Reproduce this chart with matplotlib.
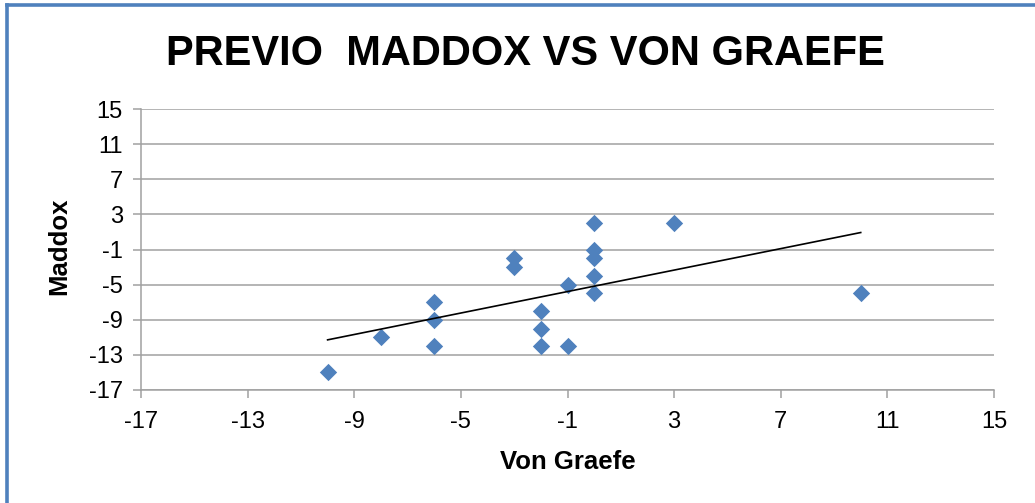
import numpy as np
import matplotlib
matplotlib.use("Agg")
import matplotlib.pyplot as plt
from matplotlib.lines import Line2D

# Data
von_graefe = [0, 3, 0, 0, 0, 0, -1, -3, -3, -2, -2, -2, -1, -6, -6, -6, -8, -10, 10]
maddox     = [2, 2, -1, -2, -4, -6, -5, -2, -3, -8, -10, -12, -12, -7, -9, -12, -11, -15, -6]
x_ticks = [-17, -13, -9, -5, -1, 3, 7, 11, 15]
y_ticks = [-17, -13, -9, -5, -1, 3, 7, 11, 15]

title = "PREVIO  MADDOX VS VON GRAEFE"
xlabel = "Von Graefe"
ylabel = "Maddox"

W, H = 1035, 503
plt.rcParams['font.family'] = ['Liberation Sans', 'DejaVu Sans']
plt.rcParams['axes.unicode_minus'] = False
fig = plt.figure(figsize=(W / 100, H / 100), dpi=100)

ax = fig.add_axes([141 / W, 1 - 390 / H, (994 - 141) / W, (390 - 109) / H])

grid_c = '#A0A0A0'
ax.set_xlim(-17, 15)
ax.set_ylim(-17, 15)
ax.set_xticks(x_ticks)
ax.set_yticks(y_ticks)
ax.yaxis.grid(True, color=grid_c, linewidth=1.1)
ax.set_axisbelow(True)
for s in ['top', 'right']:
    ax.spines[s].set_visible(False)
for s in ['left', 'bottom']:
    ax.spines[s].set_color(grid_c)
    ax.spines[s].set_linewidth(1.1)
ax.tick_params(axis='both', colors=grid_c, labelcolor='black', labelsize=17,
               length=6, width=1.1, direction='out')
ax.tick_params(axis='x', pad=9)
ax.tick_params(axis='y', pad=7)

# Scatter points
ax.scatter(von_graefe, maddox, marker='D', s=78, color='#4F81BD', zorder=3,
           linewidths=0)

# Linear trend line
xv = np.array(von_graefe, dtype=float)
yv = np.array(maddox, dtype=float)
m, b = np.polyfit(xv, yv, 1)
xs = np.array([xv.min(), xv.max()])
ax.plot(xs, m * xs + b, color='black', linewidth=1.2, zorder=4)

# Titles
fig.text(525 / W, 1 - 54 / H, title, ha='center', va='center',
         fontsize=30, fontweight='bold')
fig.text(568 / W, 1 - 462 / H, xlabel, ha='center', va='center',
         fontsize=18.5, fontweight='bold')
fig.text(59 / W, 1 - 246 / H, ylabel, ha='center', va='center',
         fontsize=18.5, fontweight='bold', rotation=90)

# Blue chart-area border (left and top edges)
blue = '#4F81BD'
fig.add_artist(Line2D([7 / W, 7 / W], [0, 1 - 5 / H], transform=fig.transFigure,
                      color=blue, linewidth=2.6))
fig.add_artist(Line2D([7 / W, 1], [1 - 5 / H, 1 - 5 / H], transform=fig.transFigure,
                      color=blue, linewidth=2.6))

fig.savefig("out.png", dpi=100)
